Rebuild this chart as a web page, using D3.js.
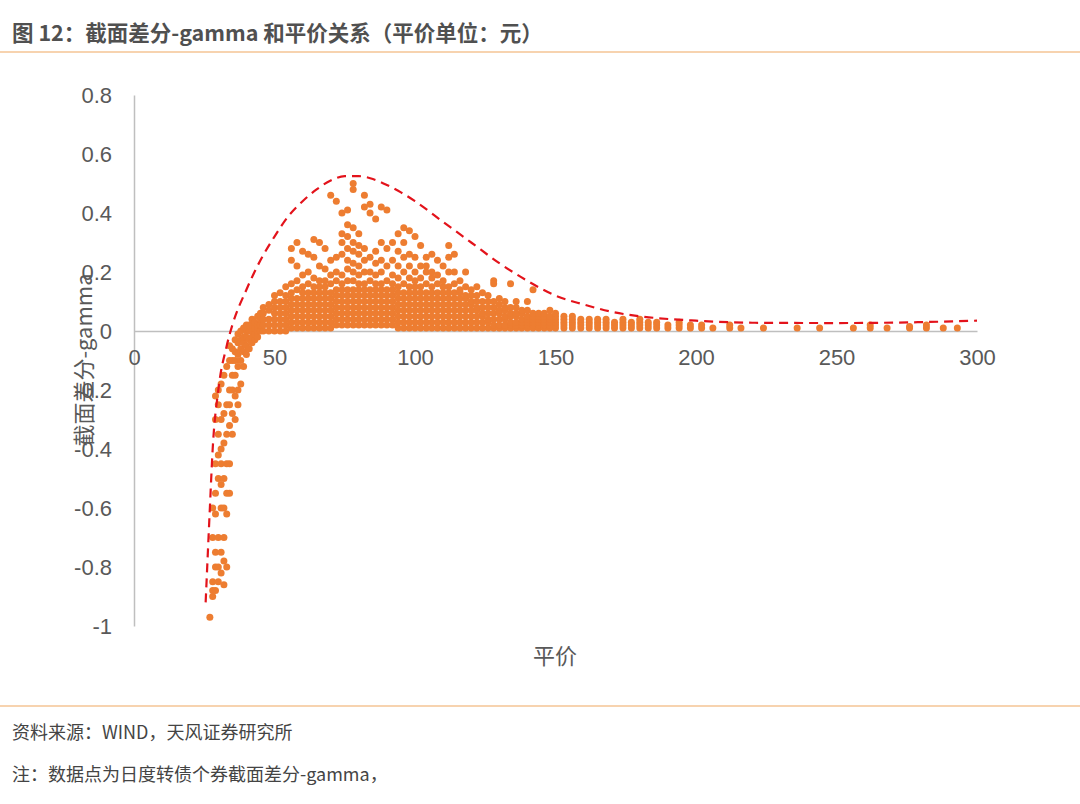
<!DOCTYPE html>
<html><head><meta charset="utf-8">
<script src="https://cdn.jsdelivr.net/npm/d3@7"></script>
<style>body{margin:0;background:#fff;font-family:"Noto Sans CJK SC","Noto Sans",sans-serif}</style>
</head><body><svg id="c" width="1080" height="804"></svg>
<script>
const title = "图 12：截面差分-gamma 和平价关系（平价单位：元）";
const source = "资料来源：WIND，天风证券研究所";
const note = "注：数据点为日度转债个券截面差分-gamma，";
const xTicks = [0,50,100,150,200,250,300];
const yTicks = [-1,-0.8,-0.6,-0.4,-0.2,0,0.2,0.4,0.6,0.8];
// scatter data, column format "parity|gamma values"
const scatterCols = [
"27|-0.97","28|-0.9,-0.88,-0.85,-0.7,-0.6","29|-0.88,-0.8,-0.75,-0.62,-0.55,-0.45,-0.3,-0.22",
"30|-0.85,-0.8,-0.7,-0.5,-0.42,-0.35,-0.25,-0.2","31|-0.82,-0.75,-0.6,-0.52,-0.45,-0.4,-0.3,-0.18",
"32|-0.86,-0.78,-0.7,-0.6,-0.5,-0.38,-0.28,-0.15","33|-0.8,-0.62,-0.55,-0.45,-0.35,-0.25,-0.12",
"34|-0.55,-0.45,-0.32,-0.25,-0.2,-0.1,-0.05","35|-0.35,-0.28,-0.2,-0.15,-0.1,-0.06",
"36|-0.3,-0.22,-0.15,-0.1,-0.07,-0.03","37|-0.25,-0.2,-0.12,-0.08,-0.04,-0.01",
"38|-0.18,-0.1,-0.06,-0.03,0","39|-0.12,-0.07,-0.04,-0.02,0.01","40|-0.08,-0.05,-0.02,0,0.02",
"41|-0.06,-0.03,0,0.02","42|-0.04,-0.02,0,0.02,0.04","43|-0.03,-0.01,0.01,0.03","44|-0.02,0,0.02,0.05",
"45|0,0.02,0.04,0.06","46|0,0.02,0.04,0.06,0.08","48|0,0.02,0.04,0.07,0.09",
"50|0,0.02,0.04,0.06,0.08,0.1,0.12","52|0,0.02,0.04,0.06,0.08,0.1,0.13",
"54|0,0.02,0.04,0.06,0.08,0.1,0.12,0.15","56|0.01,0.03,0.05,0.07,0.09,0.11,0.13,0.16,0.24,0.28",
"58|0.01,0.03,0.05,0.07,0.09,0.11,0.14,0.17,0.22,0.3","60|0.01,0.03,0.05,0.07,0.09,0.11,0.13,0.15,0.19,0.27",
"62|0.01,0.03,0.05,0.07,0.09,0.11,0.13,0.16,0.2,0.26","64|0.01,0.03,0.05,0.07,0.09,0.11,0.13,0.15,0.18,0.25,0.31",
"66|0.01,0.03,0.05,0.07,0.09,0.11,0.13,0.15,0.17,0.22,0.3","68|0.01,0.03,0.05,0.07,0.09,0.11,0.13,0.15,0.17,0.21,0.28",
"70|0.01,0.03,0.05,0.07,0.09,0.11,0.13,0.16,0.19,0.24,0.46","72|0.02,0.04,0.06,0.08,0.1,0.12,0.14,0.17,0.2,0.25,0.44",
"74|0.02,0.04,0.06,0.08,0.1,0.12,0.14,0.16,0.19,0.26,0.3,0.33,0.4",
"76|0.02,0.04,0.06,0.08,0.1,0.12,0.14,0.17,0.21,0.24,0.28,0.32,0.36,0.41",
"78|0.02,0.04,0.06,0.08,0.1,0.12,0.14,0.17,0.2,0.23,0.27,0.3,0.35,0.48,0.5",
"80|0.02,0.04,0.06,0.08,0.1,0.12,0.14,0.16,0.19,0.22,0.26,0.29,0.33",
"82|0.02,0.04,0.06,0.08,0.1,0.12,0.14,0.16,0.2,0.24,0.28,0.42,0.46",
"84|0.02,0.04,0.06,0.08,0.1,0.12,0.14,0.17,0.2,0.25,0.43,0.4",
"86|0.02,0.04,0.06,0.08,0.1,0.12,0.14,0.16,0.19,0.23,0.27,0.38",
"88|0.02,0.04,0.06,0.08,0.1,0.12,0.14,0.16,0.2,0.24,0.3,0.42",
"90|0.02,0.04,0.06,0.08,0.1,0.12,0.14,0.17,0.22,0.28,0.41",
"92|0.02,0.04,0.06,0.08,0.1,0.12,0.14,0.16,0.19,0.24,0.3",
"94|0.01,0.03,0.05,0.07,0.09,0.11,0.13,0.15,0.18,0.22,0.27,0.33",
"96|0.01,0.03,0.05,0.07,0.09,0.11,0.13,0.16,0.2,0.25,0.3,0.35",
"98|0.01,0.03,0.05,0.07,0.09,0.11,0.13,0.15,0.18,0.22,0.26,0.34",
"100|0.01,0.03,0.05,0.07,0.09,0.11,0.13,0.15,0.17,0.2,0.25,0.32",
"102|0.01,0.03,0.05,0.07,0.09,0.11,0.13,0.15,0.18,0.22,0.29",
"104|0.01,0.03,0.05,0.07,0.09,0.11,0.13,0.16,0.2,0.25,0.22",
"106|0.01,0.03,0.05,0.07,0.09,0.11,0.13,0.15,0.18,0.2,0.26",
"108|0.01,0.03,0.05,0.07,0.09,0.11,0.13,0.16,0.19,0.24",
"110|0.01,0.03,0.05,0.07,0.09,0.11,0.13,0.15,0.17,0.22",
"112|0.01,0.03,0.05,0.07,0.09,0.11,0.13,0.15,0.2,0.25,0.29",
"114|0.01,0.03,0.05,0.07,0.09,0.11,0.13,0.16,0.2,0.26",
"116|0.01,0.03,0.05,0.07,0.09,0.11,0.13,0.14,0.17","118|0.01,0.03,0.05,0.07,0.09,0.11,0.12,0.15,0.2",
"120|0.01,0.03,0.05,0.07,0.09,0.1,0.12,0.14","122|0.01,0.03,0.05,0.07,0.08,0.1,0.12,0.15",
"124|0.01,0.03,0.05,0.06,0.08,0.1,0.13","126|0.01,0.03,0.04,0.06,0.08,0.1,0.12",
"128|0.01,0.02,0.04,0.06,0.08,0.1,0.17,0.16","130|0.01,0.02,0.04,0.06,0.07,0.09,0.11",
"132|0.01,0.02,0.04,0.05,0.07,0.08,0.1","134|0.01,0.02,0.03,0.05,0.06,0.08,0.16",
"136|0.01,0.02,0.03,0.05,0.06,0.08,0.1","138|0.01,0.02,0.03,0.04,0.06,0.07",
"140|0.01,0.02,0.03,0.04,0.05,0.07,0.1","142|0.01,0.02,0.03,0.04,0.05,0.06,0.14",
"144|0.01,0.02,0.03,0.04,0.05,0.06","146|0.01,0.02,0.03,0.04,0.05,0.06","148|0.01,0.02,0.03,0.04,0.05,0.07",
"150|0.01,0.02,0.03,0.04,0.05,0.06","153|0.01,0.02,0.03,0.04,0.05","156|0.01,0.02,0.03,0.04,0.05",
"159|0.01,0.02,0.03,0.04","162|0.01,0.02,0.03,0.04","165|0.01,0.02,0.03,0.04","168|0.01,0.02,0.03,0.04",
"171|0.01,0.02,0.03","174|0.01,0.02,0.03,0.04","177|0.01,0.02,0.03","180|0.01,0.02,0.03,0.04",
"183|0.01,0.02,0.03","186|0.01,0.02,0.03","190|0.01,0.02","194|0.01,0.02,0.03","198|0.01,0.02",
"202|0.01,0.02","206|0.01","212|0.01,0.02","216|0.01","224|0.01","236|0.01","244|0.01","256|0.01",
"262|0.01,0.02","268|0.01","276|0.01,0.015","282|0.01,0.02","288|0.01","293|0.01"
];
const envX = [25.5,27,28,30,33,35,40,45,50,55,60,65,70,75,80,85,90,95,100,110,120,130,140,150,160,170,180,200,220,250,280,300];
const envY = [-0.92,-0.6,-0.4,-0.2,-0.05,0.02,0.14,0.24,0.32,0.39,0.44,0.48,0.51,0.525,0.525,0.515,0.495,0.47,0.44,0.37,0.3,0.23,0.17,0.12,0.09,0.065,0.05,0.035,0.028,0.027,0.03,0.035];

const svg = d3.select("#c");
const x = d3.scaleLinear().domain([0,300]).range([134,977]);
const y = d3.scaleLinear().domain([-1,0.8]).range([626,95]);
const grey="#595959";
svg.append("text").attr("x",12).attr("y",41).attr("font-size",21.5).attr("font-weight","bold").attr("fill","#505050").text(title);
svg.append("line").attr("x1",0).attr("x2",1080).attr("y1",52).attr("y2",52).attr("stroke","#f0a860").attr("stroke-width",1.2);
svg.append("line").attr("x1",0).attr("x2",1080).attr("y1",706).attr("y2",706).attr("stroke","#f0a860").attr("stroke-width",1.2);
svg.append("text").attr("x",12).attr("y",739).attr("font-size",18).attr("fill","#444").text(source);
svg.append("text").attr("x",12).attr("y",781).attr("font-size",18).attr("fill","#444").text(note);

const fmt = d => String(+d.toFixed(1));
const ya = svg.append("g").attr("transform","translate(134,0)").call(d3.axisLeft(y).tickValues(yTicks).tickSize(0).tickPadding(22).tickFormat(fmt));
ya.select(".domain").attr("stroke","#bfbfbf").attr("stroke-width",1.5);
ya.selectAll("text").attr("font-size",22).attr("fill",grey).attr("font-family","Liberation Sans, Arial");
const xa = svg.append("g").attr("transform",`translate(0,${y(0)})`).call(d3.axisBottom(x).tickValues(xTicks).tickSize(0).tickPadding(18).tickFormat(fmt));
xa.select(".domain").attr("stroke","#bfbfbf").attr("stroke-width",1.5);
xa.selectAll("text").attr("font-size",22).attr("fill",grey).attr("font-family","Liberation Sans, Arial");

const pts=[];
scatterCols.forEach(s=>{const [a,b]=s.split("|");b.split(",").forEach(v=>pts.push([+a,+v]));});
svg.append("g").selectAll("circle").data(pts).join("circle")
 .attr("cx",d=>x(d[0])).attr("cy",d=>y(d[1])).attr("r",3.5).attr("fill","#ed7d31");

svg.append("path").datum(envX.map((v,i)=>[v,envY[i]]))
 .attr("d",d3.line().x(d=>x(d[0])).y(d=>y(d[1])).curve(d3.curveMonotoneX))
 .attr("fill","none").attr("stroke","#e3131b").attr("stroke-width",2.2).attr("stroke-dasharray","9,6");

svg.append("text").attr("transform","translate(92,360) rotate(-90)").attr("text-anchor","middle").attr("font-size",22).attr("fill",grey).text("截面差分-gamma");
svg.append("text").attr("x",555).attr("y",664).attr("text-anchor","middle").attr("font-size",22).attr("fill",grey).text("平价");
</script></body></html>
